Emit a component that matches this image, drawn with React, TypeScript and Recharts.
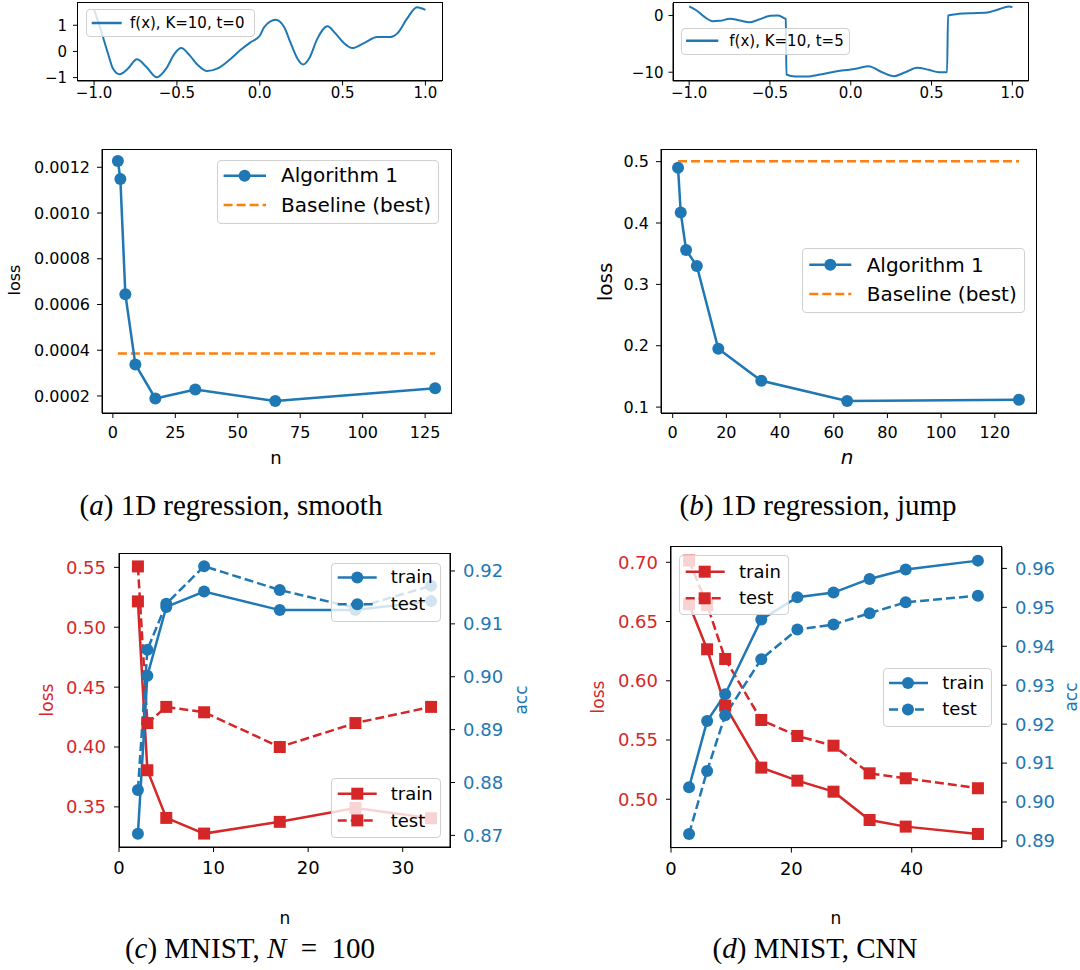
import React from 'react';
import { LineChart, Line, XAxis, YAxis } from 'recharts';

const BLUE = '#1f77b4';
const ORANGE = '#ff7f0e';
const RED = '#d62728';

// f(x), K=10, t=0
const fx0X = [-1.0, -0.96, -0.916, -0.886, -0.846, -0.795, -0.741, -0.685, -0.621, -0.564, -0.514, -0.474, -0.424, -0.374, -0.318, -0.254, -0.173, -0.113, -0.053, 0.0, 0.027, 0.097, 0.147, 0.188, 0.227, 0.262, 0.298, 0.348, 0.408, 0.458, 0.508, 0.558, 0.629, 0.709, 0.789, 0.829, 0.889, 0.949, 1.0];
const fx0Y = [1.6, 0.84, -0.08, -0.65, -0.87, -0.65, -0.3, -0.59, -0.99, -0.65, -0.08, 0.13, -0.14, -0.52, -0.75, -0.65, -0.27, 0.07, 0.36, 0.6, 0.93, 1.21, 0.93, 0.3, -0.27, -0.5, -0.27, 0.49, 0.96, 0.68, 0.32, 0.13, 0.32, 0.55, 0.55, 0.68, 1.25, 1.69, 1.59];

// f(x), K=10, t=5 (top-right strip, with the two jumps)
const fx5X = [-1.0, -0.954, -0.903, -0.855, -0.81, -0.748, -0.686, -0.628, -0.572, -0.499, -0.448, -0.41, -0.402, -0.398, -0.344, -0.272, -0.189, -0.086, 0.0, 0.048, 0.11, 0.194, 0.266, 0.338, 0.411, 0.483, 0.545, 0.596, 0.602, 0.669, 0.752, 0.834, 0.907, 0.979, 1.0];
const fx5Y = [1.6, 0.88, -0.3, -1.0, -0.95, -0.58, -0.88, -1.2, -0.76, -0.05, 0.0, -0.5, -0.6, -10.4, -10.76, -10.76, -10.4, -9.82, -9.52, -9.29, -8.94, -10.0, -10.7, -10.0, -9.22, -9.58, -10.0, -10.0, 0.0, 0.3, 0.41, 0.47, 1.0, 1.59, 1.46];

// (a) 1D regression, smooth
const nA = [2, 3, 5, 9, 17, 33, 65, 129];
const lossA = [0.001228, 0.001149, 0.000645, 0.000338, 0.000189, 0.000228, 0.000178, 0.000234];
const baselineA = 0.000386;

// (b) 1D regression, jump
const nB = [2, 3, 5, 9, 17, 33, 65, 129];
const lossB = [0.49, 0.417, 0.356, 0.33, 0.195, 0.143, 0.11, 0.112];
const baselineB = 0.5005;

// (c) MNIST, N = 100
const nC = [2, 3, 5, 9, 17, 25, 33];
const lossTrainC = [0.5216, 0.3806, 0.3408, 0.3277, 0.3375, 0.3491, 0.3405];
const lossTestC = [0.5508, 0.42, 0.4335, 0.429, 0.4, 0.42, 0.4335];
const accTrainC = [0.8703, 0.9002, 0.9132, 0.9161, 0.9126, 0.9126, 0.9143];
const accTestC = [0.8786, 0.9051, 0.9138, 0.9209, 0.9164, 0.913, 0.9172];

// (d) MNIST, CNN
const nD = [3, 6, 9, 15, 21, 27, 33, 39, 51];
const lossTrainD = [0.6646, 0.6266, 0.579, 0.5267, 0.5157, 0.5064, 0.4825, 0.4769, 0.4707];
const lossTestD = [0.7014, 0.664, 0.6184, 0.5669, 0.5534, 0.5452, 0.5219, 0.5177, 0.5093];
const accTrainD = [0.9038, 0.9208, 0.9277, 0.9469, 0.9526, 0.9538, 0.9573, 0.9597, 0.962];
const accTestD = [0.8918, 0.908, 0.9223, 0.9367, 0.9443, 0.9456, 0.9485, 0.9513, 0.953];

// ticks
const fxTicksX = [-1, -0.5, 0, 0.5, 1];
const fx0TicksY = [-1, 0, 1];
const fx5TicksY = [-10, 0];
const nTicksA = [0, 25, 50, 75, 100, 125];
const lossTicksA = [0.0002, 0.0004, 0.0006, 0.0008, 0.001, 0.0012];
const nTicksB = [0, 20, 40, 60, 80, 100, 120];
const lossTicksB = [0.1, 0.2, 0.3, 0.4, 0.5];
const nTicksC = [0, 10, 20, 30];
const lossTicksC = [0.35, 0.4, 0.45, 0.5, 0.55];
const accTicksC = [0.87, 0.88, 0.89, 0.9, 0.91, 0.92];
const nTicksD = [0, 20, 40];
const lossTicksD = [0.5, 0.55, 0.6, 0.65, 0.7];
const accTicksD = [0.89, 0.9, 0.91, 0.92, 0.93, 0.94, 0.95, 0.96];

const zip = (xs: number[], ys: number[]) => xs.map((x, i) => ({ x, y: ys[i] }));
const minus = (s: string) => s.replace('-', '\u2212');
const fmt = (d: number) => (v: number) => minus(v.toFixed(d));

type Rect = { L: number; T: number; R: number; B: number };

const rTL: Rect = { L: 77.5, T: 2.7, R: 442, B: 80.7 };
const rTR: Rect = { L: 673, T: 2.7, R: 1028.5, B: 80.7 };
const rA: Rect = { L: 102, T: 149, R: 451, B: 413 };
const rB: Rect = { L: 661, T: 149, R: 1036, B: 413 };
const rC: Rect = { L: 119, T: 553.3, R: 450, B: 847.3 };
const rD: Rect = { L: 670.7, T: 546.7, R: 1001.7, B: 847.3 };

const black = { stroke: '#000', strokeWidth: 1 };

function Chart({ r, wL, wR, hX, children }: { r: Rect; wL: number; wR: number; hX: number; children: React.ReactNode }) {
  const w = r.R - r.L + wL + wR + 5;
  const h = r.B - r.T + 5 + hX;
  return (
    <>
      <div style={{ position: 'absolute', left: r.L - wL, top: r.T - 5 }}>
        <LineChart width={w} height={h} margin={{ top: 5, right: 5, left: 0, bottom: 0 }}>
          {children}
        </LineChart>
      </div>
      {/* matplotlib-style box around the plot area */}
      <div style={{ position: 'absolute', left: r.L - 0.5, top: r.T - 0.5, width: r.R - r.L + 1, height: r.B - r.T + 1, boxSizing: 'border-box', border: '1px solid #000', pointerEvents: 'none' }} />
    </>
  );
}

const Square = (p: any) => {
  if (p.cx == null || p.cy == null) return <g key={`sq-${p.index}`} />;
  return <rect key={`sq-${p.index}`} x={p.cx - 6} y={p.cy - 6} width={12} height={12} fill={RED} />;
};

type Row = { label: string; color: string; dash?: string; marker?: 'circle' | 'square'; cy: number };

function LegendBox({ x, y, w, h, rows, x1, x2, mx, tx, fs }: { x: number; y: number; w: number; h: number; rows: Row[]; x1: number; x2: number; mx: number; tx: number; fs: number }) {
  return (
    <div style={{ position: 'absolute', left: x, top: y, width: w, height: h, boxSizing: 'border-box', border: '1px solid #d0d0d0', borderRadius: 4, background: 'rgba(255,255,255,0.8)' }}>
      <svg width={w} height={h} style={{ position: 'absolute', left: -1, top: -1, overflow: 'visible' }}>
        {rows.map((rw, i) => (
          <g key={i}>
            <line x1={x1 - x} x2={x2 - x} y1={rw.cy - y} y2={rw.cy - y} stroke={rw.color} strokeWidth={2.5} strokeDasharray={rw.dash} />
            {rw.marker === 'circle' && <circle cx={mx - x} cy={rw.cy - y} r={6} fill={rw.color} />}
            {rw.marker === 'square' && <rect x={mx - x - 6} y={rw.cy - y - 6} width={12} height={12} fill={rw.color} />}
          </g>
        ))}
      </svg>
      {rows.map((rw, i) => (
        <div key={i} style={{ position: 'absolute', left: tx - x - 1, top: rw.cy - y - 1 - fs * 0.62, fontSize: fs, lineHeight: `${fs * 1.2}px`, whiteSpace: 'nowrap', color: '#000' }}>
          {rw.label}
        </div>
      ))}
    </div>
  );
}

function Txt({ x, y, fs, children, color = '#000', rotate = false, serif = false, italic = false }: { x: number; y: number; fs: number; children: React.ReactNode; color?: string; rotate?: boolean; serif?: boolean; italic?: boolean }) {
  return (
    <div
      style={{
        position: 'absolute',
        left: x,
        top: y,
        transform: `translate(-50%, -50%)${rotate ? ' rotate(-90deg)' : ''}`,
        fontSize: fs,
        color,
        whiteSpace: 'nowrap',
        lineHeight: 1,
        fontFamily: serif ? '"Liberation Serif", serif' : '"DejaVu Sans", sans-serif',
        fontStyle: italic ? 'italic' : 'normal',
      }}
    >
      {children}
    </div>
  );
}

export default function App() {
  const fx0 = zip(fx0X, fx0Y);
  const fx5 = zip(fx5X, fx5Y);
  const algA = zip(nA, lossA);
  const baseA = [{ x: nA[0], y: baselineA }, { x: nA[nA.length - 1], y: baselineA }];
  const algB = zip(nB, lossB);
  const baseB = [{ x: nB[0], y: baselineB }, { x: nB[nB.length - 1], y: baselineB }];

  const tick = (fs: number, fill = '#000') => ({ fill, fontSize: fs });
  const dashed = '9 4';
  const circ = { r: 6, fill: BLUE, stroke: 'none' };
  const xdA: [number, number] = [-4.35, 135.35];

  return (
    <div style={{ position: 'absolute', left: 0, top: 0, width: 1080, height: 970, background: '#fff', fontFamily: '"DejaVu Sans", sans-serif', overflow: 'hidden' }}>
      {/* top strips */}
      <Chart r={rTL} wL={77.5} wR={0} hX={28}>
        <XAxis type="number" dataKey="x" domain={[-1.1, 1.1]} ticks={fxTicksX} tickFormatter={fmt(1)} allowDataOverflow height={28} tickSize={4.5} tickMargin={2} axisLine={black} tickLine={black} tick={tick(15)} />
        <YAxis type="number" dataKey="y" domain={[-1.13, 1.85]} ticks={fx0TicksY} tickFormatter={fmt(0)} allowDataOverflow width={77.5} tickSize={4.5} tickMargin={6} axisLine={black} tickLine={black} tick={tick(15)} />
        <Line data={fx0} dataKey="y" type="monotone" stroke={BLUE} strokeWidth={2} dot={false} activeDot={false} isAnimationActive={false} />
      </Chart>
      <Chart r={rTR} wL={80} wR={0} hX={28}>
        <XAxis type="number" dataKey="x" domain={[-1.1, 1.1]} ticks={fxTicksX} tickFormatter={fmt(1)} allowDataOverflow height={28} tickSize={4.5} tickMargin={2} axisLine={black} tickLine={black} tick={tick(15)} />
        <YAxis type="number" dataKey="y" domain={[-11.55, 2.2]} ticks={fx5TicksY} tickFormatter={fmt(0)} allowDataOverflow width={80} tickSize={4.5} tickMargin={5} axisLine={black} tickLine={black} tick={tick(15)} />
        <Line data={fx5} dataKey="y" type="monotone" stroke={BLUE} strokeWidth={2} dot={false} activeDot={false} isAnimationActive={false} />
      </Chart>
      <LegendBox x={86} y={9.3} w={169} h={27.4} fs={15} x1={91.7} x2={121.7} mx={0} tx={130} rows={[{ label: 'f(x), K=10, t=0', color: BLUE, cy: 23.3 }]} />
      <LegendBox x={681} y={28.3} w={169} h={26.7} fs={15} x1={686} x2={718.3} mx={0} tx={729.3} rows={[{ label: 'f(x), K=10, t=5', color: BLUE, cy: 41 }]} />

      {/* (a) */}
      <Chart r={rA} wL={100} wR={0} hX={40}>
        <XAxis type="number" dataKey="x" domain={xdA} ticks={nTicksA} allowDataOverflow height={40} tickSize={5} tickMargin={8.5} axisLine={black} tickLine={black} tick={tick(16)} />
        <YAxis type="number" dataKey="y" domain={[0.0001255, 0.00128]} ticks={lossTicksA} tickFormatter={fmt(4)} allowDataOverflow width={100} tickSize={5} tickMargin={7} axisLine={black} tickLine={black} tick={tick(16)} />
        <Line data={baseA} dataKey="y" stroke={ORANGE} strokeWidth={2.5} strokeDasharray={dashed} dot={false} activeDot={false} isAnimationActive={false} />
        <Line data={algA} dataKey="y" stroke={BLUE} strokeWidth={2.5} dot={circ} activeDot={false} isAnimationActive={false} />
      </Chart>
      <LegendBox x={216.7} y={160} w={222.6} h={64.3} fs={20} x1={223.3} x2={265.7} mx={244.3} tx={281} rows={[
        { label: 'Algorithm 1', color: BLUE, marker: 'circle', cy: 175.7 },
        { label: 'Baseline (best)', color: ORANGE, dash: dashed, cy: 205 },
      ]} />
      <Txt x={15} y={280} fs={16} rotate>loss</Txt>
      <Txt x={276} y={458} fs={18}>n</Txt>

      {/* (b) */}
      <Chart r={rB} wL={80} wR={0} hX={40}>
        <XAxis type="number" dataKey="x" domain={xdA} ticks={nTicksB} allowDataOverflow height={40} tickSize={5} tickMargin={8.5} axisLine={black} tickLine={black} tick={tick(16)} />
        <YAxis type="number" dataKey="y" domain={[0.0904, 0.5206]} ticks={lossTicksB} tickFormatter={fmt(1)} allowDataOverflow width={80} tickSize={5} tickMargin={7} axisLine={black} tickLine={black} tick={tick(16)} />
        <Line data={baseB} dataKey="y" stroke={ORANGE} strokeWidth={2.5} strokeDasharray={dashed} dot={false} activeDot={false} isAnimationActive={false} />
        <Line data={algB} dataKey="y" stroke={BLUE} strokeWidth={2.5} dot={circ} activeDot={false} isAnimationActive={false} />
      </Chart>
      <LegendBox x={801.7} y={248.3} w={223.3} h={65} fs={20} x1={809} x2={851} mx={830} tx={866.7} rows={[
        { label: 'Algorithm 1', color: BLUE, marker: 'circle', cy: 265 },
        { label: 'Baseline (best)', color: ORANGE, dash: dashed, cy: 294.3 },
      ]} />
      <Txt x={605} y={282} fs={20} rotate>loss</Txt>
      <Txt x={847} y={457} fs={20} italic>n</Txt>

      {/* (c) */}
      <Chart r={rC} wL={100} wR={70} hX={40}>
        <XAxis type="number" dataKey="x" domain={[0, 35]} ticks={nTicksC} allowDataOverflow height={40} tickSize={5} tickMargin={9.4} axisLine={black} tickLine={black} tick={tick(18)} />
        <YAxis yAxisId="loss" type="number" dataKey="y" domain={[0.3165, 0.562]} ticks={lossTicksC} tickFormatter={fmt(2)} allowDataOverflow width={100} tickSize={5} tickMargin={8} axisLine={black} tickLine={black} tick={tick(18, RED)} />
        <YAxis yAxisId="acc" orientation="right" type="number" dataKey="y" domain={[0.8678, 0.9234]} ticks={accTicksC} tickFormatter={fmt(2)} allowDataOverflow width={70} tickSize={5} tickMargin={8} axisLine={black} tickLine={black} tick={tick(18, BLUE)} />
        <Line yAxisId="loss" data={zip(nC, lossTrainC)} dataKey="y" stroke={RED} strokeWidth={2.5} dot={Square} activeDot={false} isAnimationActive={false} />
        <Line yAxisId="loss" data={zip(nC, lossTestC)} dataKey="y" stroke={RED} strokeWidth={2.5} strokeDasharray={dashed} dot={Square} activeDot={false} isAnimationActive={false} />
        <Line yAxisId="acc" data={zip(nC, accTrainC)} dataKey="y" stroke={BLUE} strokeWidth={2.5} dot={circ} activeDot={false} isAnimationActive={false} />
        <Line yAxisId="acc" data={zip(nC, accTestC)} dataKey="y" stroke={BLUE} strokeWidth={2.5} strokeDasharray={dashed} dot={circ} activeDot={false} isAnimationActive={false} />
      </Chart>
      <LegendBox x={331} y={562.7} w={109.7} h={59} fs={18} x1={337.7} x2={376.7} mx={357.3} tx={390.7} rows={[
        { label: 'train', color: BLUE, marker: 'circle', cy: 577.3 },
        { label: 'test', color: BLUE, marker: 'circle', dash: dashed, cy: 604 },
      ]} />
      <LegendBox x={331} y={778.3} w={109.7} h={60} fs={18} x1={337.7} x2={376.7} mx={357.3} tx={390.7} rows={[
        { label: 'train', color: RED, marker: 'square', cy: 794 },
        { label: 'test', color: RED, marker: 'square', dash: dashed, cy: 820.7 },
      ]} />
      <Txt x={47} y={700} fs={17} rotate color={RED}>loss</Txt>
      <Txt x={521} y={700} fs={17} rotate color={BLUE}>acc</Txt>
      <Txt x={285} y={918} fs={17}>n</Txt>

      {/* (d) */}
      <Chart r={rD} wL={100} wR={70} hX={40}>
        <XAxis type="number" dataKey="x" domain={[0, 55]} ticks={nTicksD} allowDataOverflow height={40} tickSize={5} tickMargin={9.4} axisLine={black} tickLine={black} tick={tick(18)} />
        <YAxis yAxisId="loss" type="number" dataKey="y" domain={[0.4592, 0.7129]} ticks={lossTicksD} tickFormatter={fmt(2)} allowDataOverflow width={100} tickSize={5} tickMargin={8} axisLine={black} tickLine={black} tick={tick(18, RED)} />
        <YAxis yAxisId="acc" orientation="right" type="number" dataKey="y" domain={[0.8883, 0.9655]} ticks={accTicksD} tickFormatter={fmt(2)} allowDataOverflow width={70} tickSize={5} tickMargin={8} axisLine={black} tickLine={black} tick={tick(18, BLUE)} />
        <Line yAxisId="loss" data={zip(nD, lossTrainD)} dataKey="y" stroke={RED} strokeWidth={2.5} dot={Square} activeDot={false} isAnimationActive={false} />
        <Line yAxisId="loss" data={zip(nD, lossTestD)} dataKey="y" stroke={RED} strokeWidth={2.5} strokeDasharray={dashed} dot={Square} activeDot={false} isAnimationActive={false} />
        <Line yAxisId="acc" data={zip(nD, accTrainD)} dataKey="y" stroke={BLUE} strokeWidth={2.5} dot={circ} activeDot={false} isAnimationActive={false} />
        <Line yAxisId="acc" data={zip(nD, accTestD)} dataKey="y" stroke={BLUE} strokeWidth={2.5} strokeDasharray={dashed} dot={circ} activeDot={false} isAnimationActive={false} />
      </Chart>
      <LegendBox x={679.3} y={555} w={109.7} h={60} fs={18} x1={686} x2={725} mx={705} tx={739} rows={[
        { label: 'train', color: RED, marker: 'square', cy: 571.7 },
        { label: 'test', color: RED, marker: 'square', dash: dashed, cy: 598.3 },
      ]} />
      <LegendBox x={883.3} y={667.7} w={109} h={59} fs={18} x1={889.3} x2={928.3} mx={908.3} tx={942.3} rows={[
        { label: 'train', color: BLUE, marker: 'circle', cy: 682.7 },
        { label: 'test', color: BLUE, marker: 'circle', dash: dashed, cy: 709.3 },
      ]} />
      <Txt x={598} y={697} fs={17} rotate color={RED}>loss</Txt>
      <Txt x={1071} y={697} fs={17} rotate color={BLUE}>acc</Txt>
      <Txt x={836} y={918} fs={17}>n</Txt>

      {/* captions */}
      <Txt x={231} y={505} fs={29} serif>(<i>a</i>) 1D regression, smooth</Txt>
      <Txt x={818} y={505} fs={29} serif>(<i>b</i>) 1D regression, jump</Txt>
      <Txt x={250} y={948} fs={29} serif>(<i>c</i>) MNIST, <i>N</i>&nbsp;&nbsp;=&nbsp;&nbsp;100</Txt>
      <Txt x={815} y={948} fs={29} serif>(<i>d</i>) MNIST, CNN</Txt>
    </div>
  );
}
